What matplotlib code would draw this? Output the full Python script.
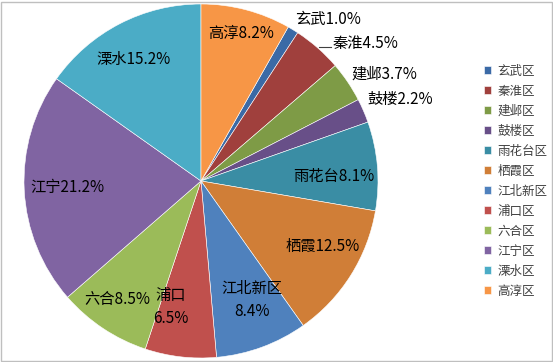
import matplotlib
matplotlib.use("Agg")
import matplotlib.pyplot as plt
from matplotlib.patches import Rectangle

plt.rcParams['font.family'] = ['Noto Sans CJK SC', 'DejaVu Sans']

# ── data ─────────────────────────────────────────────────────────────────────
districts = ["玄武", "秦淮", "建邺", "鼓楼", "雨花台", "栖霞",
             "江北新区", "浦口", "六合", "江宁", "溧水", "高淳"]
shares = [1.0, 4.5, 3.7, 2.2, 8.1, 12.5, 8.4, 6.5, 8.5, 21.2, 15.2, 8.2]
legend_labels = [d + "区" if not d.endswith("区") else d for d in districts]

colors = ["#3B6AA6", "#A0403D", "#7E9B46", "#684F88", "#3A8DA4", "#D07E37",
          "#4F81BD", "#C0504D", "#9BBB59", "#8064A2", "#4BACC6", "#F79646"]

# label text and where it sits (pie radius units)
label_text = ["玄武1.0%", "秦淮4.5%", "建邺3.7%", "鼓楼2.2%", "雨花台8.1%", "栖霞12.5%",
              "江北新区\n8.4%", "浦口\n6.5%", "六合8.5%", "江宁21.2%", "溧水15.2%", "高淳8.2%"]
label_pos = [(0.72, 0.915), (0.93, 0.775), (1.035, 0.605), (1.125, 0.463),
             (0.75, 0.028), (0.685, -0.367), (0.29, -0.672), (-0.17, -0.712),
             (-0.475, -0.667), (-0.757, -0.034), (-0.384, 0.689), (0.226, 0.831)]

fig = plt.figure(figsize=(5.53, 3.62), dpi=100)
ax = fig.add_axes([24 / 553, 4 / 362, 354 / 553, 354 / 362])

# Excel puts 高淳 (last) at 12 o'clock -> first slice starts after it
start = 90 - shares[-1] / 100 * 360
wedges, _ = ax.pie(shares, colors=colors, startangle=start, counterclock=False,
                   radius=1.0, wedgeprops=dict(edgecolor="white", linewidth=0.4))
ax.set_xlim(-1, 1)
ax.set_ylim(-1, 1)
ax.set_aspect("equal")
ax.axis("off")

for txt, (x, y) in zip(label_text, label_pos):
    ax.text(x, y, txt, ha="center", va="center", fontsize=11, color="black",
            linespacing=1.45, clip_on=False)

# short leader line for 秦淮
ax.plot([0.665, 0.735], [0.755, 0.755], color="#404040", lw=0.8, clip_on=False)

leg = fig.legend(wedges, legend_labels, loc="center left",
                 bbox_to_anchor=(473 / 553, 0.5), frameon=False,
                 fontsize=9, handlelength=0.55, handleheight=0.55,
                 handletextpad=0.5, labelspacing=0.56)
for t in leg.get_texts():
    t.set_color("#404040")

# outer chart border
fig.patches.append(Rectangle((1 / 553, 1 / 362), 551 / 553, 359 / 362,
                             transform=fig.transFigure, fill=False,
                             edgecolor="#BFBFBF", lw=1))

fig.savefig("out.png", dpi=100)
